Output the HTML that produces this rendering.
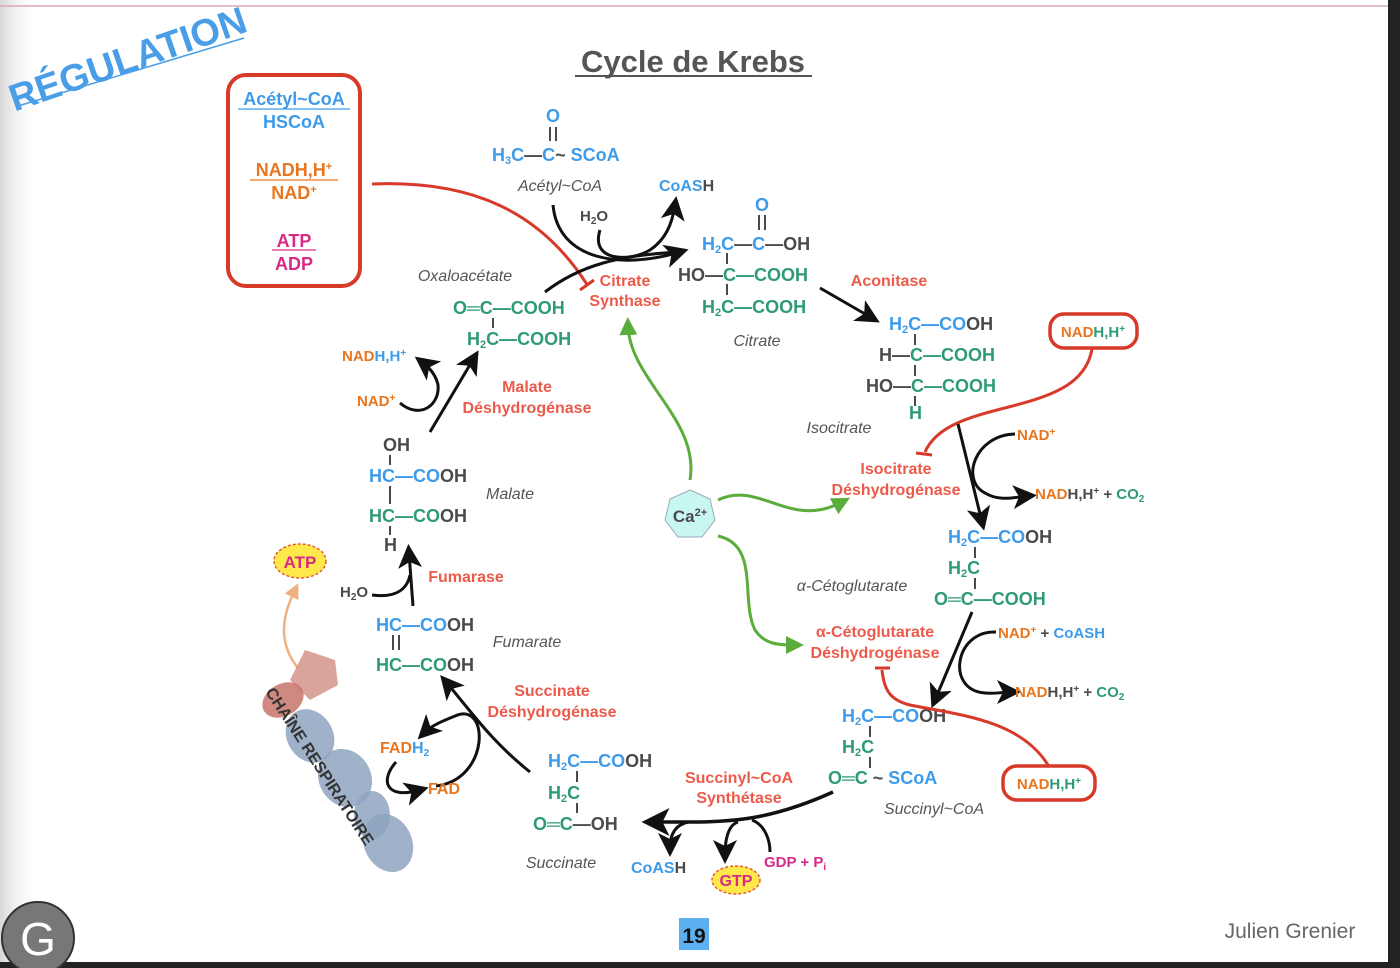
<!DOCTYPE html>
<html><head><meta charset="utf-8"><style>
html,body{margin:0;padding:0;background:#fff}
svg{display:block}
text{font-family:"Liberation Sans",Arial,sans-serif;font-weight:bold}
.c{font-size:18px}
.b{fill:#3d9be9}.g{fill:#2e9a78}.k{fill:#4a4a4a}.o{fill:#e8761e}.r{fill:#ec5a4a}.m{fill:#d62a86}
.i{font-style:italic;font-weight:normal;fill:#555;font-size:16px}
.e{font-size:16px;fill:#ec5a4a;text-anchor:middle}
</style></head><body>
<svg width="1400" height="968" viewBox="0 0 1400 968" xmlns="http://www.w3.org/2000/svg">
<defs>
<linearGradient id="lg" x1="0" x2="1"><stop offset="0" stop-color="#d8d8d8"/><stop offset="1" stop-color="#fff" stop-opacity="0"/></linearGradient>
<marker id="ah" markerWidth="8" markerHeight="8" refX="5" refY="4" orient="auto" markerUnits="strokeWidth"><path d="M0,0 L8,4 L0,8 L2,4z" fill="#111"/></marker>
<marker id="gh" markerWidth="6" markerHeight="6" refX="3" refY="3" orient="auto" markerUnits="strokeWidth"><path d="M0,0 L6,3 L0,6z" fill="#5aad3a"/></marker>
<marker id="oh" markerWidth="6" markerHeight="6" refX="3" refY="3" orient="auto" markerUnits="strokeWidth"><path d="M0,0 L6,3 L0,6z" fill="#f0b080"/></marker>
</defs>
<rect width="1400" height="968" fill="#fff"/>
<rect x="0" y="0" width="40" height="968" fill="url(#lg)"/>
<rect x="1388" y="0" width="12" height="968" fill="#222"/>
<rect x="0" y="962" width="1400" height="6" fill="#222"/>
<line x1="0" y1="6" x2="1388" y2="6" stroke="#d9a8b8" stroke-width="1.5"/>

<text x="128" y="72" font-size="38" fill="#4a9ee8" text-anchor="middle" transform="rotate(-19 128 60)" style="font-weight:bold">RÉGULATION</text>
<line x1="18" y1="106" x2="244" y2="38" stroke="#4a9ee8" stroke-width="1.5"/>

<text x="693" y="72" font-size="31" fill="#555" text-anchor="middle">Cycle de Krebs</text>
<line x1="575" y1="76" x2="812" y2="76" stroke="#555" stroke-width="2"/>

<!-- regulation box -->
<rect x="228" y="75" width="132" height="211" rx="18" fill="#fff" stroke="#d83a2a" stroke-width="4"/>
<g font-size="18" text-anchor="middle">
<text x="294" y="105" class="b">Acétyl~CoA</text>
<line x1="238" y1="109" x2="350" y2="109" stroke="#3d9be9" stroke-width="1.2"/>
<text x="294" y="128" class="b">HSCoA</text>
<text x="294" y="176" class="o">NADH,H<tspan font-size="11" dy="-6">+</tspan></text>
<line x1="250" y1="180" x2="338" y2="180" stroke="#e8761e" stroke-width="1.2"/>
<text x="294" y="199" class="o">NAD<tspan font-size="11" dy="-6">+</tspan></text>
<text x="294" y="247" class="m">ATP</text>
<line x1="272" y1="250" x2="316" y2="250" stroke="#d62a86" stroke-width="1.2"/>
<text x="294" y="270" class="m">ADP</text>
</g>
<path d="M372,184 C470,180 540,210 588,286" fill="none" stroke="#d83a2a" stroke-width="3"/>
<line x1="580" y1="290" x2="594" y2="280" stroke="#d83a2a" stroke-width="3"/>

<!-- Acetyl CoA -->
<text x="546" y="122" class="c b">O</text>
<line x1="550" y1="127" x2="550" y2="141" stroke="#4a4a4a" stroke-width="2"/><line x1="556" y1="127" x2="556" y2="141" stroke="#4a4a4a" stroke-width="2"/>
<text x="492" y="161" class="c b">H<tspan font-size="11" dy="3">3</tspan><tspan dy="-3">C</tspan><tspan class="k">—</tspan>C<tspan class="k">~</tspan> SCoA</text>
<text x="560" y="191" class="i" text-anchor="middle">Acétyl~CoA</text>
<text x="659" y="191" font-size="16" class="b">CoAS<tspan class="k">H</tspan></text>
<text x="580" y="221" font-size="15" class="k">H<tspan font-size="10" dy="3">2</tspan><tspan dy="-3">O</tspan></text>
<path d="M553,205 C558,260 620,270 680,252" fill="none" stroke="#111" stroke-width="3" marker-end="url(#ah)"/>
<path d="M600,230 C590,262 630,262 650,250 C665,240 672,225 675,205" fill="none" stroke="#111" stroke-width="3" marker-end="url(#ah)"/>
<path d="M545,292 C580,265 620,255 680,252" fill="none" stroke="#111" stroke-width="3"/>
<text x="625" y="286" class="e">Citrate</text>
<text x="625" y="306" class="e">Synthase</text>

<!-- Citrate -->
<text x="755" y="211" class="c b">O</text>
<line x1="759" y1="215" x2="759" y2="230" stroke="#4a4a4a" stroke-width="2"/><line x1="765" y1="215" x2="765" y2="230" stroke="#4a4a4a" stroke-width="2"/>
<text x="702" y="250" class="c b">H<tspan font-size="11" dy="3">2</tspan><tspan dy="-3">C</tspan><tspan class="k">—</tspan>C<tspan class="k">—OH</tspan></text>
<line x1="727" y1="253" x2="727" y2="264" stroke="#4a4a4a" stroke-width="2"/>
<text x="678" y="281" class="c g"><tspan class="k">HO—</tspan>C—COOH</text>
<line x1="727" y1="284" x2="727" y2="295" stroke="#4a4a4a" stroke-width="2"/>
<text x="702" y="313" class="c g">H<tspan font-size="11" dy="3">2</tspan><tspan dy="-3">C—COOH</tspan></text>
<text x="757" y="346" class="i" text-anchor="middle">Citrate</text>
<text x="889" y="286" class="e">Aconitase</text>
<line x1="820" y1="288" x2="872" y2="318" stroke="#111" stroke-width="3" marker-end="url(#ah)"/>

<!-- Isocitrate -->
<text x="889" y="330" class="c b">H<tspan font-size="11" dy="3">2</tspan><tspan dy="-3">C—CO</tspan><tspan class="k">OH</tspan></text>
<line x1="915" y1="334" x2="915" y2="345" stroke="#4a4a4a" stroke-width="2"/>
<text x="879" y="361" class="c g"><tspan class="k">H—</tspan>C—COOH</text>
<line x1="915" y1="365" x2="915" y2="376" stroke="#4a4a4a" stroke-width="2"/>
<text x="866" y="392" class="c g"><tspan class="k">HO—</tspan>C—COOH</text>
<line x1="915" y1="396" x2="915" y2="406" stroke="#4a4a4a" stroke-width="2"/>
<text x="909" y="419" class="c g">H</text>
<text x="839" y="433" class="i" text-anchor="middle">Isocitrate</text>

<rect x="1050" y="314" width="87" height="34" rx="14" fill="#fff" stroke="#d83a2a" stroke-width="3.5"/>
<text x="1093" y="337" font-size="15" text-anchor="middle" class="o">NAD<tspan class="g">H,H<tspan font-size="10" dy="-5">+</tspan></tspan></text>
<path d="M1092,349 C1080,420 950,395 925,452" fill="none" stroke="#d83a2a" stroke-width="3"/>
<line x1="916" y1="453" x2="932" y2="455" stroke="#d83a2a" stroke-width="3"/>
<text x="896" y="474" class="e">Isocitrate</text>
<text x="896" y="495" class="e">Déshydrogénase</text>
<line x1="958" y1="424" x2="982" y2="522" stroke="#111" stroke-width="3" marker-end="url(#ah)"/>
<path d="M1015,434 C975,435 960,480 985,493 C1000,502 1015,497 1028,496" fill="none" stroke="#111" stroke-width="3" marker-end="url(#ah)"/>
<text x="1017" y="440" font-size="15" class="o">NAD<tspan font-size="10" dy="-5">+</tspan></text>
<text x="1035" y="499" font-size="15" class="o">NAD<tspan class="k">H,H<tspan font-size="10" dy="-5">+</tspan><tspan dy="5"> + </tspan></tspan><tspan class="g">CO<tspan font-size="10" dy="3">2</tspan></tspan></text>

<!-- alpha KG -->
<text x="948" y="543" class="c b">H<tspan font-size="11" dy="3">2</tspan><tspan dy="-3">C—CO</tspan><tspan class="k">OH</tspan></text>
<line x1="975" y1="547" x2="975" y2="558" stroke="#4a4a4a" stroke-width="2"/>
<text x="948" y="574" class="c g">H<tspan font-size="11" dy="3">2</tspan><tspan dy="-3">C</tspan></text>
<line x1="975" y1="578" x2="975" y2="589" stroke="#4a4a4a" stroke-width="2"/>
<text x="934" y="605" class="c g">O═C—COOH</text>
<text x="852" y="591" class="i" text-anchor="middle">α-Cétoglutarate</text>
<text x="875" y="637" class="e">α-Cétoglutarate</text>
<text x="875" y="658" class="e">Déshydrogénase</text>
<line x1="972" y1="612" x2="935" y2="700" stroke="#111" stroke-width="3" marker-end="url(#ah)"/>
<path d="M996,632 C955,630 945,690 985,693 C995,694 1005,692 1012,692" fill="none" stroke="#111" stroke-width="3" marker-end="url(#ah)"/>
<text x="998" y="638" font-size="15" class="o">NAD<tspan font-size="10" dy="-5">+</tspan><tspan dy="5" class="k"> + </tspan><tspan class="b">CoASH</tspan></text>
<text x="1015" y="697" font-size="15" class="o">NAD<tspan class="k">H,H<tspan font-size="10" dy="-5">+</tspan><tspan dy="5"> + </tspan></tspan><tspan class="g">CO<tspan font-size="10" dy="3">2</tspan></tspan></text>

<!-- succinyl coA -->
<text x="842" y="722" class="c b">H<tspan font-size="11" dy="3">2</tspan><tspan dy="-3">C—CO</tspan><tspan class="k">OH</tspan></text>
<line x1="870" y1="726" x2="870" y2="737" stroke="#4a4a4a" stroke-width="2"/>
<text x="842" y="753" class="c g">H<tspan font-size="11" dy="3">2</tspan><tspan dy="-3">C</tspan></text>
<line x1="870" y1="757" x2="870" y2="768" stroke="#4a4a4a" stroke-width="2"/>
<text x="828" y="784" class="c g">O═C <tspan class="k">~</tspan> <tspan class="b">SCoA</tspan></text>
<text x="934" y="814" class="i" text-anchor="middle">Succinyl~CoA</text>
<rect x="1003" y="766" width="92" height="34" rx="14" fill="#fff" stroke="#d83a2a" stroke-width="3.5"/>
<text x="1049" y="789" font-size="15" text-anchor="middle" class="o">NAD<tspan class="g">H,H<tspan font-size="10" dy="-5">+</tspan></tspan></text>
<path d="M1048,765 C1020,720 960,715 910,705 C890,700 884,690 882,670" fill="none" stroke="#d83a2a" stroke-width="3"/>
<line x1="875" y1="668" x2="890" y2="668" stroke="#d83a2a" stroke-width="3"/>

<text x="739" y="783" class="e">Succinyl~CoA</text>
<text x="739" y="803" class="e">Synthétase</text>
<path d="M833,792 C760,825 720,822 652,822" fill="none" stroke="#111" stroke-width="3.5" marker-end="url(#ah)"/>
<path d="M688,822 C675,825 670,835 670,848" fill="none" stroke="#111" stroke-width="3" marker-end="url(#ah)"/>
<path d="M738,822 C728,825 725,840 725,855" fill="none" stroke="#111" stroke-width="3" marker-end="url(#ah)"/>
<path d="M752,820 C765,825 770,840 770,852" fill="none" stroke="#111" stroke-width="3"/>
<text x="631" y="873" font-size="16" class="b">CoAS<tspan class="k">H</tspan></text>
<ellipse cx="736" cy="880" rx="24" ry="14" fill="#ffe94a" stroke="#e85a30" stroke-width="1.5" stroke-dasharray="3 2"/>
<text x="736" y="886" font-size="16" text-anchor="middle" class="m">GTP</text>
<text x="764" y="867" font-size="15" class="m">GDP + P<tspan font-size="10" dy="3">i</tspan></text>

<!-- succinate -->
<text x="548" y="767" class="c b">H<tspan font-size="11" dy="3">2</tspan><tspan dy="-3">C—CO</tspan><tspan class="k">OH</tspan></text>
<line x1="577" y1="771" x2="577" y2="782" stroke="#4a4a4a" stroke-width="2"/>
<text x="548" y="799" class="c g">H<tspan font-size="11" dy="3">2</tspan><tspan dy="-3">C</tspan></text>
<line x1="577" y1="803" x2="577" y2="813" stroke="#4a4a4a" stroke-width="2"/>
<text x="533" y="830" class="c g">O═C<tspan class="k">—OH</tspan></text>
<text x="561" y="868" class="i" text-anchor="middle">Succinate</text>
<text x="552" y="696" class="e">Succinate</text>
<text x="552" y="717" class="e">Déshydrogénase</text>
<path d="M530,772 C490,740 470,710 446,682" fill="none" stroke="#111" stroke-width="3" marker-end="url(#ah)"/>
<path d="M436,786 C490,780 490,700 455,716 C445,720 432,725 424,733" fill="none" stroke="#111" stroke-width="3" marker-end="url(#ah)"/>
<path d="M396,762 C380,780 385,800 420,790" fill="none" stroke="#111" stroke-width="3" marker-end="url(#ah)"/>
<text x="380" y="753" font-size="16" class="o">FAD<tspan class="b">H<tspan font-size="10" dy="3">2</tspan></tspan></text>
<text x="428" y="794" font-size="16" class="o">FAD</text>

<!-- fumarate -->
<text x="376" y="631" class="c b">HC—CO<tspan class="k">OH</tspan></text>
<line x1="393" y1="635" x2="393" y2="650" stroke="#4a4a4a" stroke-width="2"/><line x1="399" y1="635" x2="399" y2="650" stroke="#4a4a4a" stroke-width="2"/>
<text x="376" y="671" class="c g">HC—CO<tspan class="k">OH</tspan></text>
<text x="527" y="647" class="i" text-anchor="middle">Fumarate</text>
<text x="466" y="582" class="e">Fumarase</text>
<line x1="413" y1="606" x2="409" y2="553" stroke="#111" stroke-width="3" marker-end="url(#ah)"/>
<path d="M372,595 C395,598 407,590 410,575" fill="none" stroke="#111" stroke-width="3"/>
<text x="340" y="597" font-size="15" class="k">H<tspan font-size="10" dy="3">2</tspan><tspan dy="-3">O</tspan></text>

<!-- malate -->
<text x="383" y="451" class="c k">OH</text>
<line x1="390" y1="455" x2="390" y2="465" stroke="#4a4a4a" stroke-width="2"/>
<text x="369" y="482" class="c b">HC—CO<tspan class="k">OH</tspan></text>
<line x1="390" y1="486" x2="390" y2="504" stroke="#4a4a4a" stroke-width="2"/>
<text x="369" y="522" class="c g">HC—CO<tspan class="k">OH</tspan></text>
<line x1="390" y1="526" x2="390" y2="535" stroke="#4a4a4a" stroke-width="2"/>
<text x="384" y="551" class="c k">H</text>
<text x="510" y="499" class="i" text-anchor="middle">Malate</text>
<text x="527" y="392" class="e">Malate</text>
<text x="527" y="413" class="e">Déshydrogénase</text>
<line x1="430" y1="432" x2="474" y2="358" stroke="#111" stroke-width="3" marker-end="url(#ah)"/>
<path d="M400,403 C420,420 440,405 438,385 C436,375 430,368 422,362" fill="none" stroke="#111" stroke-width="3" marker-end="url(#ah)"/>
<text x="342" y="361" font-size="15" class="o">NAD<tspan class="b">H,H<tspan font-size="10" dy="-5">+</tspan></tspan></text>
<text x="357" y="406" font-size="15" class="o">NAD<tspan font-size="10" dy="-5">+</tspan></text>

<!-- oxaloacetate -->
<text x="453" y="314" class="c g">O═C—COOH</text>
<line x1="493" y1="318" x2="493" y2="328" stroke="#4a4a4a" stroke-width="2"/>
<text x="467" y="345" class="c g">H<tspan font-size="11" dy="3">2</tspan><tspan dy="-3">C—COOH</tspan></text>
<text x="465" y="281" class="i" text-anchor="middle">Oxaloacétate</text>

<!-- Ca -->
<path d="M690,480 C700,420 630,380 628,326" fill="none" stroke="#5aad3a" stroke-width="3" marker-end="url(#gh)"/>
<path d="M718,500 C760,480 790,530 842,502" fill="none" stroke="#5aad3a" stroke-width="3" marker-end="url(#gh)"/>
<path d="M718,536 C760,545 740,600 755,630 C765,645 780,645 795,645" fill="none" stroke="#5aad3a" stroke-width="3" marker-end="url(#gh)"/>
<polygon points="690,490 710,499 715,520 702,537 678,537 665,520 670,499" fill="#c8f7f2" stroke="#9ab" stroke-width="1"/>
<text x="690" y="522" font-size="17" text-anchor="middle" class="k">Ca<tspan font-size="11" dy="-6">2+</tspan></text>

<!-- respiratory chain -->
<path d="M298,668 C275,640 285,610 295,590" fill="none" stroke="#f0b080" stroke-width="2.5" marker-end="url(#oh)"/>
<ellipse cx="300" cy="561" rx="26" ry="17" fill="#ffe94a" stroke="#e85a30" stroke-width="1.5" stroke-dasharray="3 2"/>
<text x="300" y="568" font-size="17" text-anchor="middle" class="m">ATP</text>
<polygon points="305,650 335,660 338,685 310,700 290,680" fill="#d4938a" opacity="0.85"/>
<ellipse cx="283" cy="700" rx="22" ry="16" fill="#c8746a" opacity="0.85" transform="rotate(-30 283 700)"/>
<ellipse cx="310" cy="736" rx="23" ry="28" fill="#8ea4c0" opacity="0.85" transform="rotate(-30 310 736)"/>
<ellipse cx="345" cy="778" rx="26" ry="30" fill="#8ea4c0" opacity="0.85" transform="rotate(-30 345 778)"/>
<ellipse cx="372" cy="815" rx="18" ry="24" fill="#8ea4c0" opacity="0.85"/>
<ellipse cx="388" cy="843" rx="24" ry="30" fill="#8ea4c0" opacity="0.85" transform="rotate(-25 388 843)"/>
<text x="0" y="0" font-size="16" fill="#333" transform="translate(265,692) rotate(57)">CHAÎNE RESPIRATOIRE</text>

<!-- footer -->
<rect x="679" y="918" width="30" height="32" fill="#5ab0f0"/>
<text x="694" y="943" font-size="21" text-anchor="middle" fill="#111">19</text>
<text x="1290" y="938" font-size="21" text-anchor="middle" fill="#666" style="font-weight:normal">Julien Grenier</text>
<circle cx="38" cy="938" r="36" fill="#777" stroke="#333" stroke-width="2"/>
<text x="38" y="955" font-size="46" text-anchor="middle" fill="#fff" style="font-weight:normal">G</text>
</svg>
</body></html>
